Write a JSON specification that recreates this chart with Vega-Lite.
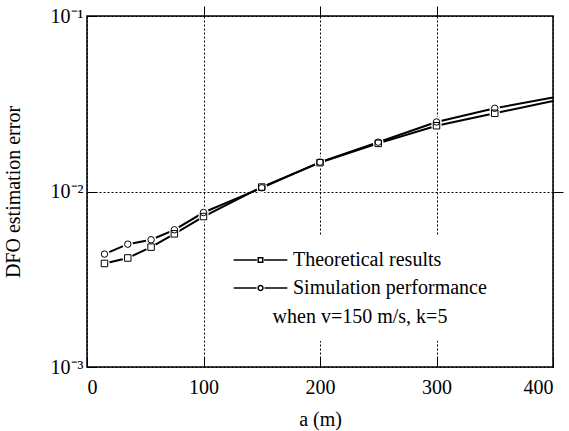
{
  "$schema": "https://vega.github.io/schema/vega-lite/v6.json",
  "width": 466,
  "height": 351,
  "autosize": "none",
  "padding": {"left": 87, "top": 16, "right": 16, "bottom": 64},
  "background": "white",
  "config": {
    "font": "Liberation Serif",
    "view": {"stroke": "black", "strokeWidth": 1.5},
    "axis": {
      "labelFont": "Liberation Serif", "titleFont": "Liberation Serif",
      "labelFontSize": 20, "titleFontSize": 20,
      "labelColor": "black", "titleColor": "black", "titleFontWeight": "normal",
      "domain": false, "tickColor": "black", "tickWidth": 1,
      "gridColor": "black", "gridDash": [2, 2], "gridOpacity": 1, "gridWidth": 1
    }
  },
  "resolve": {"axis": {"x": "independent", "y": "independent"}, "scale": {"shape": "independent"}},
  "data": {"values": [
    {"a": 15, "err": 0.00389, "series": "Theoretical results"},
    {"a": 35, "err": 0.00418, "series": "Theoretical results"},
    {"a": 55, "err": 0.00482, "series": "Theoretical results"},
    {"a": 75, "err": 0.00574, "series": "Theoretical results"},
    {"a": 100, "err": 0.0072, "series": "Theoretical results"},
    {"a": 150, "err": 0.0106, "series": "Theoretical results"},
    {"a": 200, "err": 0.0146, "series": "Theoretical results"},
    {"a": 250, "err": 0.0188, "series": "Theoretical results"},
    {"a": 300, "err": 0.0237, "series": "Theoretical results"},
    {"a": 350, "err": 0.0279, "series": "Theoretical results"},
    {"a": 400, "err": 0.0328, "series": "Theoretical results"},
    {"a": 15, "err": 0.0044, "series": "Simulation performance"},
    {"a": 35, "err": 0.00501, "series": "Simulation performance"},
    {"a": 55, "err": 0.00531, "series": "Simulation performance"},
    {"a": 75, "err": 0.00605, "series": "Simulation performance"},
    {"a": 100, "err": 0.00759, "series": "Simulation performance"},
    {"a": 150, "err": 0.0105, "series": "Simulation performance"},
    {"a": 200, "err": 0.0147, "series": "Simulation performance"},
    {"a": 250, "err": 0.0191, "series": "Simulation performance"},
    {"a": 300, "err": 0.0249, "series": "Simulation performance"},
    {"a": 350, "err": 0.0298, "series": "Simulation performance"},
    {"a": 400, "err": 0.0343, "series": "Simulation performance"}
  ]},
  "layer": [
    {
      "mark": {"type": "line", "color": "black", "strokeWidth": 2},
      "encoding": {
        "x": {"field": "a", "type": "quantitative",
          "scale": {"domain": [0, 400], "nice": false},
          "axis": {"values": [0, 100, 200, 300, 400], "title": "a (m)", "grid": true, "tickSize": -10, "labelPadding": 20, "titlePadding": 12}},
        "y": {"field": "err", "type": "quantitative",
          "scale": {"type": "log", "domain": [0.001, 0.1], "nice": false},
          "axis": {"values": [0.001, 0.01, 0.1], "title": "DFO estimation error", "grid": true, "tickSize": -10, "labelPadding": 14, "titlePadding": 27,
            "labelExpr": "datum.value > 0.05 ? '10⁻¹' : datum.value > 0.005 ? '10⁻²' : '10⁻³'"}},
        "detail": {"field": "series"}
      }
    },
    {
      "transform": [{"filter": "datum.a < 400"}],
      "mark": {"type": "point", "shape": "circle", "filled": true, "fill": "white", "opacity": 1, "size": 110, "strokeWidth": 0},
      "encoding": {
        "x": {"field": "a", "type": "quantitative",
          "axis": {"orient": "top", "values": [100, 200, 300], "labels": false, "title": null, "grid": false, "tickSize": 10}},
        "y": {"field": "err", "type": "quantitative",
          "axis": {"orient": "right", "values": [0.01], "labels": false, "title": null, "grid": false, "tickSize": 10}}
      }
    },
    {
      "transform": [{"filter": "datum.a < 400"}],
      "mark": {"type": "point", "filled": false, "color": "black", "stroke": "black", "strokeWidth": 1, "opacity": 1, "size": 42},
      "encoding": {
        "x": {"field": "a", "type": "quantitative", "axis": null},
        "y": {"field": "err", "type": "quantitative", "axis": null},
        "shape": {"field": "series", "type": "nominal",
          "scale": {"domain": ["Theoretical results", "Simulation performance"], "range": ["square", "circle"]},
          "legend": null}
      }
    },
    {
      "transform": [{"filter": "datum.a < 400"}],
      "mark": {"type": "point", "filled": false, "color": "black", "stroke": "black", "strokeWidth": 1.5, "opacity": 0, "size": 20},
      "encoding": {
        "x": {"field": "a", "type": "quantitative", "axis": null},
        "y": {"field": "err", "type": "quantitative", "axis": null},
        "shape": {"field": "series", "type": "nominal",
          "scale": {"domain": ["Theoretical results", "Simulation performance"],
            "range": ["M-12,0H-1.6M1.6,0H12M-1,-1H1V1H-1Z", "M-12,0H-1.8M1.8,0H12M1.1,0A1.1,1.1 0 1,1 -1.1,0A1.1,1.1 0 1,1 1.1,0Z"]},
          "legend": {
            "orient": "none", "legendX": 132, "legendY": 220,
            "title": "when v=150 m/s, k=5", "titleOrient": "bottom", "titleAnchor": "middle",
            "titleFont": "Liberation Serif", "titleFontSize": 20, "titleFontWeight": "normal", "titleColor": "black", "titlePadding": 9,
            "labelFont": "Liberation Serif", "labelFontSize": 20, "labelColor": "black", "labelLimit": 0,
            "fillColor": "white", "padding": 14, "rowPadding": 8,
            "symbolSize": 20, "symbolOffset": 17.5, "labelOffset": 22.5,
            "symbolStrokeColor": "black", "symbolFillColor": "white", "symbolStrokeWidth": 1.5, "symbolOpacity": 1
          }}
      }
    }
  ]
}
